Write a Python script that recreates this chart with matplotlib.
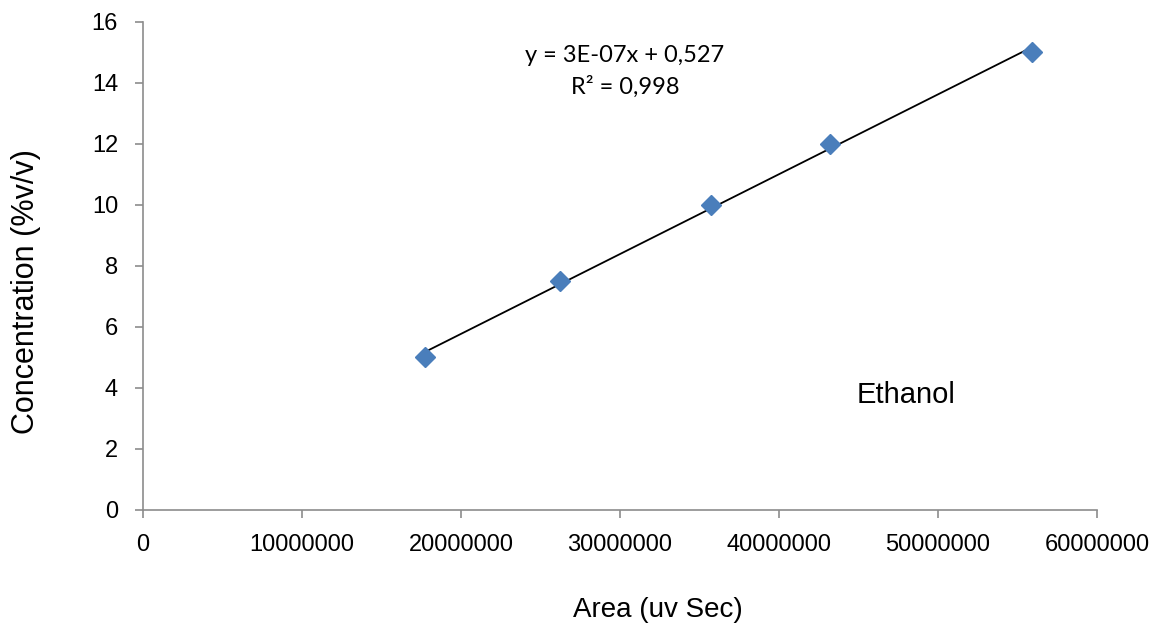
import numpy as np
import matplotlib
matplotlib.use("Agg")
import matplotlib.pyplot as plt

# valeurs
area = [17740000, 26230000, 35720000, 43210000, 55910000]
conc = [5, 7.5, 10, 12, 15]
xticks = [0, 10000000, 20000000, 30000000, 40000000, 50000000, 60000000]
yticks = [0, 2, 4, 6, 8, 10, 12, 14, 16]

plt.rcParams['font.family'] = ['Liberation Sans', 'DejaVu Sans']

fig = plt.figure(figsize=(11.59, 6.39), dpi=100)
ax = fig.add_axes([0.1234, 0.2019, 0.8231, 0.7637])

# droite de tendance
a, b = np.polyfit(area, conc, 1)
xl = np.array([area[0], area[-1]])
ax.plot(xl, a * xl + b, color='black', lw=1.3, zorder=2)
ax.plot(area, conc, linestyle='none', marker='D', markersize=10,
        color='#4a7ebb', markeredgecolor='#4a7ebb', zorder=3)

ax.set_xlim(0, 60000000)
ax.set_ylim(0, 16)
ax.set_xticks(xticks)
ax.set_xticklabels([str(v) for v in xticks])
ax.set_yticks(yticks)

for s in ['top', 'right']:
    ax.spines[s].set_visible(False)
for s in ['left', 'bottom']:
    ax.spines[s].set_color('#8c8c8c')
    ax.spines[s].set_linewidth(1.2)
ax.tick_params(axis='both', colors='#8c8c8c', labelcolor='black',
               labelsize=17, length=6, width=1.2)
ax.tick_params(axis='x', pad=11)
ax.tick_params(axis='y', pad=12)

ax.set_xlabel('Area (uv Sec)', fontsize=20)
ax.xaxis.set_label_coords(0.540, -0.178)
ax.set_ylabel('Concentration (%v/v)', fontsize=22)
ax.yaxis.set_label_coords(-0.107, 0.447)

ax.text(0.505, 0.932, 'y = 3E-07x + 0,527', transform=ax.transAxes,
        ha='center', va='center', fontsize=17, family=['Lato', 'DejaVu Sans'])
ax.text(0.505, 0.867, 'R² = 0,998', transform=ax.transAxes,
        ha='center', va='center', fontsize=17, family=['Lato', 'DejaVu Sans'])
ax.text(0.80, 0.236, 'Ethanol', transform=ax.transAxes,
        ha='center', va='center', fontsize=21)

fig.savefig('out.png', dpi=100)
